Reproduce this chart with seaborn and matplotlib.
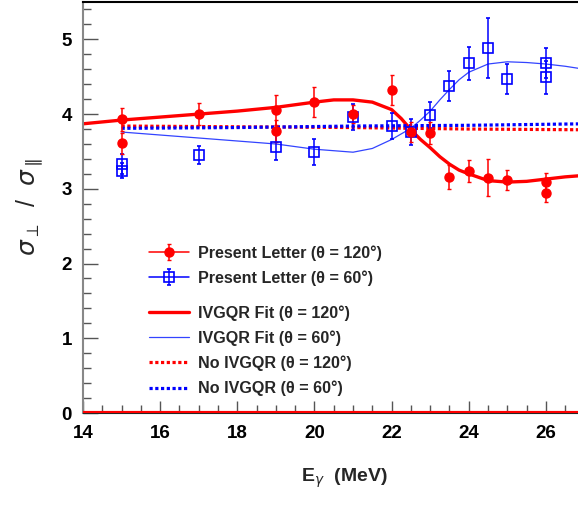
import matplotlib
matplotlib.use("Agg")
import matplotlib.pyplot as plt
import seaborn as sns
from matplotlib.lines import Line2D
from matplotlib.legend_handler import HandlerTuple
from matplotlib.ticker import MultipleLocator

# Dados medidos: theta = 120 graus (circulos vermelhos)
e120 = [15, 15, 17, 19, 19, 20, 21, 22, 22.5, 23, 23.5, 24, 24.5, 25, 26, 26]
r120 = [3.93, 3.61, 4.00, 4.05, 3.77, 4.16, 4.00, 4.32, 3.76, 3.75, 3.16, 3.24, 3.15, 3.12, 3.09, 2.95]
err120 = [0.15, 0.14, 0.15, 0.2, 0.15, 0.2, 0.12, 0.2, 0.13, 0.15, 0.16, 0.15, 0.25, 0.13, 0.12, 0.13]

# Dados medidos: theta = 60 graus (quadrados azuis)
e60 = [15, 15, 17, 19, 20, 21, 22, 22.5, 23, 23.5, 24, 24.5, 25, 26, 26]
r60 = [3.33, 3.24, 3.45, 3.56, 3.49, 3.96, 3.84, 3.76, 3.99, 4.37, 4.68, 4.88, 4.47, 4.68, 4.49]
err60 = [0.13, 0.1, 0.12, 0.17, 0.17, 0.17, 0.17, 0.18, 0.17, 0.2, 0.22, 0.4, 0.2, 0.2, 0.22]

# Ajuste IVGQR
fit120_e = [14, 15, 16, 17, 18, 19, 20, 20.5, 21, 21.5, 22, 22.25, 22.5, 22.75, 23, 23.25,
            23.5, 23.75, 24, 24.5, 25, 25.5, 26, 26.5, 27]
fit120_r = [3.87, 3.92, 3.96, 4.00, 4.04, 4.09, 4.16, 4.19, 4.19, 4.16, 4.06, 3.94, 3.79, 3.66,
            3.55, 3.43, 3.33, 3.25, 3.20, 3.11, 3.09, 3.10, 3.13, 3.16, 3.18]
fit60_e = [15, 16, 17, 18, 19, 20, 20.5, 21, 21.5, 22, 22.5, 22.75, 23, 23.25, 23.5, 23.75,
           24, 24.5, 25, 25.5, 26, 26.5, 27]
fit60_r = [3.76, 3.72, 3.68, 3.64, 3.60, 3.53, 3.51, 3.49, 3.54, 3.66, 3.81, 3.92, 4.04, 4.19,
           4.33, 4.46, 4.56, 4.67, 4.70, 4.69, 4.67, 4.64, 4.60]

# Sem IVGQR
noiv_e = [15, 18, 21, 24, 27]
noiv120_r = [3.84, 3.83, 3.82, 3.80, 3.79]
noiv60_r = [3.81, 3.82, 3.84, 3.85, 3.87]

sns.set_style("ticks")
plt.rcParams["font.family"] = ["Liberation Sans", "DejaVu Sans"]
plt.rcParams["mathtext.fontset"] = "dejavusans"

fig = plt.figure(figsize=(5.78, 5.07), dpi=100)
ax = fig.add_axes([83 / 578, 94 / 507, 501.5 / 578, 411 / 507])

sns.lineplot(x=fit120_e, y=fit120_r, color="#ff0000", lw=2.4, ax=ax)
h_fit120 = ax.lines[-1]
sns.lineplot(x=fit60_e, y=fit60_r, color="#3344ff", lw=0.9, ax=ax)
h_fit60 = ax.lines[-1]
sns.lineplot(x=noiv_e, y=noiv120_r, color="#ff0000", lw=2.3, ax=ax)
h_no120 = ax.lines[-1]
h_no120.set_linestyle((0, (1, 0.8)))
sns.lineplot(x=noiv_e, y=noiv60_r, color="#0000ff", lw=2.3, ax=ax)
h_no60 = ax.lines[-1]
h_no60.set_linestyle((0, (1, 0.8)))

h60 = ax.errorbar(e60, r60, yerr=err60, fmt="s", ms=7.2, mfc="none", mec="#0000ff",
                  mew=1.2, color="#0000ff", ecolor="#0000ff", elinewidth=1.1, capsize=1.5,
                  lw=1.1)
h120 = ax.errorbar(e120, r120, yerr=err120, fmt="o", ms=6.5, color="#ff0000",
                   ecolor="#ff0000", elinewidth=1.1, capsize=1.5, lw=1.1)

ax.axhline(0, color="#ff0000", lw=3, zorder=5)

ax.set_xlim(14, 27)
ax.set_ylim(0, 5.5)
ax.xaxis.set_major_locator(MultipleLocator(2))
ax.xaxis.set_minor_locator(MultipleLocator(0.5))
ax.yaxis.set_major_locator(MultipleLocator(1))
ax.yaxis.set_minor_locator(MultipleLocator(0.2))
ax.tick_params(axis="both", which="both", direction="in", top=False, right=False,
               colors="#555555", labelcolor="black", labelsize=13.5)
ax.tick_params(axis="x", which="major", length=9, width=1, pad=9)
ax.tick_params(axis="x", which="minor", length=5.5, width=1)
ax.tick_params(axis="y", which="major", length=11, width=1, pad=8)
ax.tick_params(axis="y", which="minor", length=5.5, width=1)
for lab in ax.get_xticklabels() + ax.get_yticklabels():
    lab.set_fontweight("bold")

ax.spines["left"].set_color("#888888")
ax.spines["left"].set_linewidth(1.5)
ax.spines["top"].set_color("black")
ax.spines["top"].set_linewidth(1.5)
ax.spines["right"].set_visible(False)

ax.set_xlabel(r"E$_\gamma$  (MeV)", fontsize=14, fontweight="bold")
ax.xaxis.set_label_coords(0.522, -0.13)
ax.set_ylabel(r"$\sigma_{\perp}$  /  $\sigma_{\parallel}$", fontsize=18)
ax.yaxis.set_label_coords(-0.075, 0.5)

# entradas da legenda com linha horizontal atravessando o marcador
line120 = Line2D([], [], color="#ff0000", lw=1.1)
line60 = Line2D([], [], color="#0000ff", lw=1.1)

leg_kw = dict(loc="upper left", bbox_transform=fig.transFigure, frameon=False,
              prop={"weight": "bold", "size": 11.6},
              handlelength=2.5, handletextpad=0.55, labelspacing=0.6,
              borderpad=0, borderaxespad=0, handler_map={tuple: HandlerTuple(ndivide=1)})
leg1 = ax.legend([(line120, h120), (line60, h60)],
                 ["Present Letter (θ = 120°)", "Present Letter (θ = 60°)"],
                 bbox_to_anchor=(149 / 578, 1 - 245 / 507), **leg_kw)
ax.add_artist(leg1)
ax.legend([h_fit120, h_fit60, h_no120, h_no60],
          ["IVGQR Fit (θ = 120°)", "IVGQR Fit (θ = 60°)",
           "No IVGQR (θ = 120°)", "No IVGQR (θ = 60°)"],
          bbox_to_anchor=(149 / 578, 1 - 305 / 507), **leg_kw)

plt.savefig("out.png", dpi=100)
plt.close()
